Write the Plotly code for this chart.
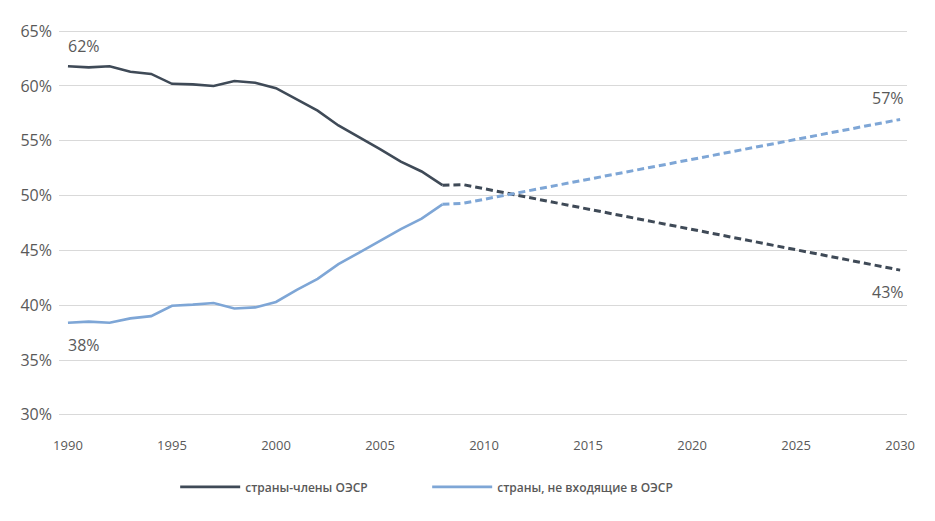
import plotly.graph_objects as go

years_hist = list(range(1990, 2009))
oecd_hist = [61.8, 61.7, 61.8, 61.3, 61.1, 60.2, 60.15, 60.0, 60.45, 60.3, 59.8,
             58.8, 57.75, 56.4, 55.35, 54.25, 53.1, 52.2, 50.95]
non_oecd_hist = [38.4, 38.5, 38.4, 38.8, 39.0, 39.95, 40.05, 40.2, 39.7, 39.8, 40.3,
                 41.4, 42.4, 43.75, 44.8, 45.85, 46.95, 47.9, 49.2]

years_proj = [2008, 2009, 2030]
oecd_proj = [50.95, 51.0, 43.2]
non_oecd_proj = [49.2, 49.3, 56.95]

series_names = ["страны-члены ОЭСР", "страны, не входящие в ОЭСР"]
label_years = [1990, 1990, 2030, 2030]
label_values = [61.8, 38.4, 56.95, 43.2]
label_texts = ["62%", "38%", "57%", "43%"]

dark = "#3f4a57"
light = "#7ea6d6"
grey_text = "#595959"
FONT = "Open Sans"

fig = go.Figure()
fig.add_trace(go.Scatter(x=years_hist, y=oecd_hist, mode="lines", name=series_names[0],
                         line=dict(color=dark, width=2.6)))
fig.add_trace(go.Scatter(x=years_hist, y=non_oecd_hist, mode="lines", name=series_names[1],
                         line=dict(color=light, width=2.6)))
fig.add_trace(go.Scatter(x=years_proj, y=oecd_proj, mode="lines", showlegend=False,
                         line=dict(color=dark, width=3, dash="7px,4px")))
fig.add_trace(go.Scatter(x=years_proj, y=non_oecd_proj, mode="lines", showlegend=False,
                         line=dict(color=light, width=3, dash="7px,4px")))

shifts = [20, -22, 21, -22]
for yr, v, t, s in zip(label_years, label_values, label_texts, shifts):
    fig.add_annotation(x=yr, y=v, text=t, showarrow=False, yshift=s,
                       xanchor="left" if yr == 1990 else "right",
                       xshift=-2 if yr == 1990 else 6,
                       font=dict(family=FONT, size=16, color=grey_text))

fig.update_layout(
    width=919, height=505,
    margin=dict(l=49, r=14, t=17, b=92),
    paper_bgcolor="white", plot_bgcolor="white",
    showlegend=True,
    legend=dict(orientation="h", x=0.137, y=-0.18, xanchor="left", yanchor="middle",
                font=dict(family=FONT, size=12, color=grey_text, weight=600),
                entrywidth=177, entrywidthmode="pixels", itemwidth=60),
    xaxis=dict(range=[1989.57, 2030.33], tickmode="array",
               tickvals=list(range(1990, 2031, 5)), showgrid=False, zeroline=False,
               showline=False, ticks="", ticklabelstandoff=19,
               tickfont=dict(family=FONT, size=13, color=grey_text)),
    yaxis=dict(range=[29.8, 65.2], tickmode="array", tickvals=list(range(30, 66, 5)),
               ticktext=[f"{v}%" for v in range(30, 66, 5)], showgrid=True,
               gridcolor="#d9d9d9", gridwidth=1.3, zeroline=False, showline=False,
               ticks="", ticklabelstandoff=6,
               tickfont=dict(family=FONT, size=16, color=grey_text)),
)

fig.write_html("out.html")
